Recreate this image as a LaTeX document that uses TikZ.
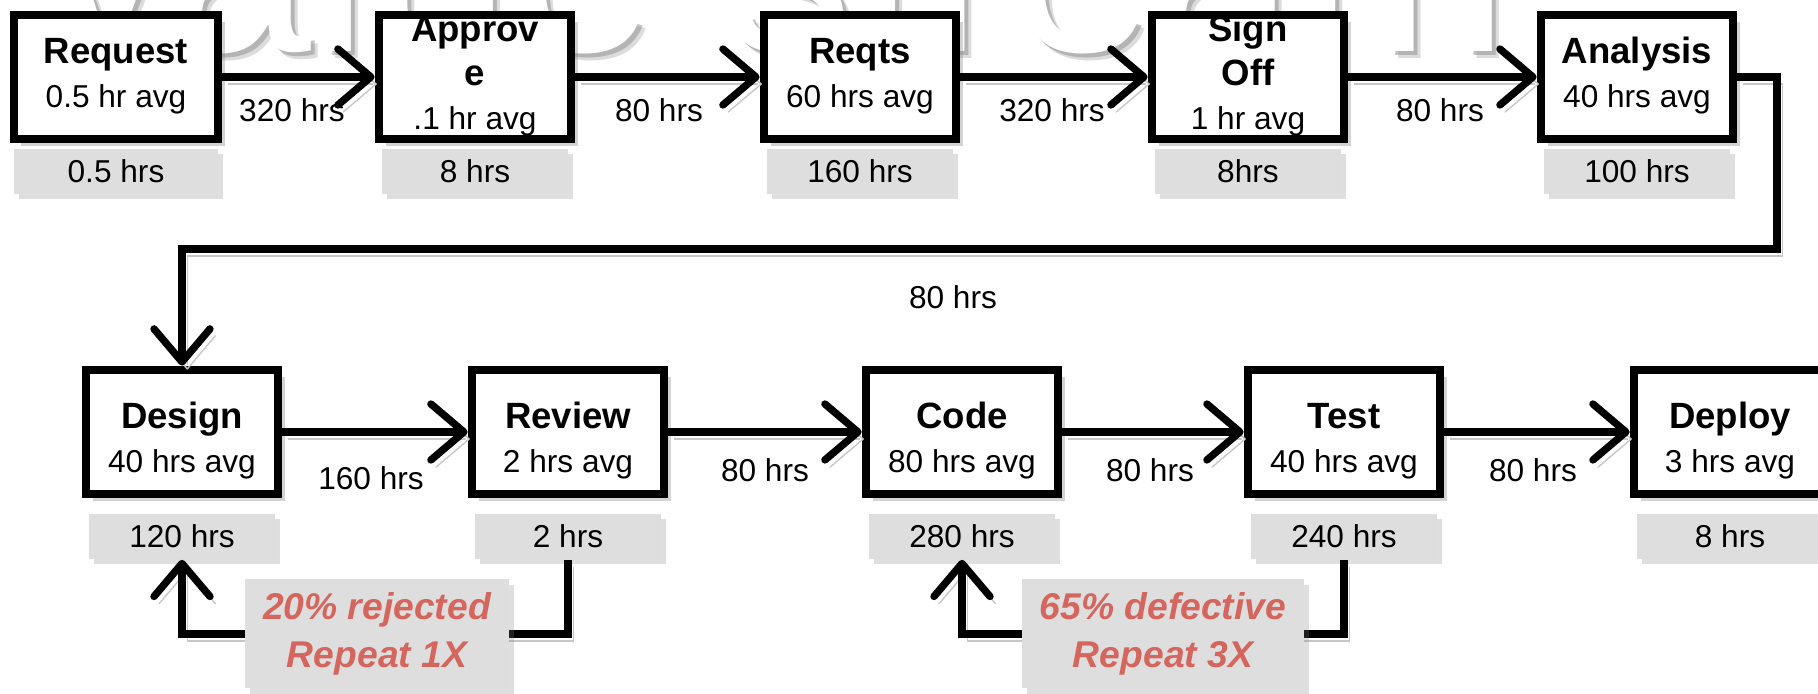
\documentclass[tikz,border=0pt]{standalone}
\usepackage{fontspec}
\setmainfont{Liberation Sans}
\usepackage{tikz}
\usetikzlibrary{arrows.meta,positioning,shadows}
\definecolor{hrsgray}{HTML}{DEDEDE}
\definecolor{notered}{HTML}{D4665E}
\definecolor{wmshade}{HTML}{9A9A9A}
\newcommand{\stepttl}{\fontsize{10.4}{12.5}\selectfont\bfseries}
\newcommand{\stepbody}[3][-0.08cm]{\smash{\raisebox{#1}{\begin{tabular}{@{}c@{}}#2\\#3\end{tabular}}}}

\begin{document}
\begin{tikzpicture}[font=\fontsize{9}{11}\selectfont,
  stepbox/.style={draw=black,line width=2.5pt,fill=white,minimum width=1.92cm,minimum height=1.24cm,inner sep=0pt,
    font=\fontsize{9}{12.5}\selectfont,drop shadow={shadow xshift=2pt,shadow yshift=-2pt,opacity=0.35}},
  hrsbox/.style={fill=hrsgray,minimum width=1.86cm,minimum height=0.45cm,inner sep=0pt,
    drop shadow={shadow xshift=1.5pt,shadow yshift=-1.5pt,opacity=0.25}},
  notebox/.style={fill=hrsgray,text=notered,inner xsep=0.18cm,minimum height=1.09cm,align=center,
    font=\fontsize{10.6}{13.7}\selectfont\bfseries\itshape,drop shadow={shadow xshift=1.5pt,shadow yshift=-1.5pt,opacity=0.25}},
  conn/.style={line width=2.1pt,-{Straight Barb[length=3.3mm,width=5.6mm,round]},
    preaction={draw=black!22,transform canvas={shift={(1.5pt,-2pt)}}}},
  wmark/.style={anchor=base west,inner sep=0pt,font=\fontsize{73}{80}\selectfont}]
  \useasboundingbox (0,0) rectangle (18.18,-6.94);

  \node[wmark,text=wmshade,opacity=0.35] (wmblur) at (0.47,-0.59) {value stream};
  \node[wmark,text=wmshade,opacity=0.6] (wmshadow) at (0.44,-0.56) {value stream};
  \node[wmark,text=white] (wm) at (0.40,-0.52) {value stream};

  \node[stepbox,minimum width=2.04cm] (req) at (1.16,-0.77) {\stepbody{\stepttl Request}{0.5 hr avg}};
  \node[stepbox] (appr) at (4.75,-0.77) {\stepbody{\stepttl Approv\\\stepttl e}{.1 hr avg}};
  \node[stepbox] (reqts) at (8.60,-0.77) {\stepbody{\stepttl Reqts}{60 hrs avg}};
  \node[stepbox] (sign) at (12.48,-0.77) {\stepbody{\stepttl Sign\\\stepttl Off}{1 hr avg}};
  \node[stepbox] (anal) at (16.37,-0.77) {\stepbody{\stepttl Analysis}{40 hrs avg}};

  \node[hrsbox,minimum width=2.04cm,below=0.05cm of req] (reqhrs) {0.5 hrs};
  \node[hrsbox,below=0.05cm of appr] (apprhrs) {8 hrs};
  \node[hrsbox,below=0.05cm of reqts] (reqtshrs) {160 hrs};
  \node[hrsbox,below=0.05cm of sign] (signhrs) {8hrs};
  \node[hrsbox,below=0.05cm of anal] (analhrs) {100 hrs};

  \node[stepbox] (des) at (1.82,-4.32) {\stepbody[-0.18cm]{\stepttl Design}{40 hrs avg}};
  \node[stepbox] (rev) at (5.68,-4.32) {\stepbody[-0.18cm]{\stepttl Review}{2 hrs avg}};
  \node[stepbox] (code) at (9.62,-4.32) {\stepbody[-0.18cm]{\stepttl Code}{80 hrs avg}};
  \node[stepbox] (test) at (13.44,-4.32) {\stepbody[-0.18cm]{\stepttl Test}{40 hrs avg}};
  \node[stepbox] (depl) at (17.30,-4.32) {\stepbody[-0.18cm]{\stepttl Deploy}{3 hrs avg}};

  \node[hrsbox,below=0.15cm of des] (deshrs) {120 hrs};
  \node[hrsbox,below=0.15cm of rev] (revhrs) {2 hrs};
  \node[hrsbox,below=0.15cm of code] (codehrs) {280 hrs};
  \node[hrsbox,below=0.15cm of test] (testhrs) {240 hrs};
  \node[hrsbox,below=0.15cm of depl] (deplhrs) {8 hrs};

  \draw[conn] (req) -- (appr);
  \draw[conn] (appr) -- (reqts);
  \draw[conn] (reqts) -- (sign);
  \draw[conn] (sign) -- (anal);
  \coordinate (loopr) at (17.77,-2.49);
  \draw[conn] (anal.east) -| (loopr) -| (des.north);
  \draw[conn] (des) -- (rev);
  \draw[conn] (rev) -- (code);
  \draw[conn] (code) -- (test);
  \draw[conn] (test) -- (depl);

  \node (w1) at (2.92,-1.10) {320 hrs};
  \node (w2) at (6.59,-1.10) {80 hrs};
  \node (w3) at (10.52,-1.10) {320 hrs};
  \node (w4) at (14.40,-1.10) {80 hrs};
  \node (w5) at (9.53,-2.97) {80 hrs};
  \node (w6) at (3.71,-4.78) {160 hrs};
  \node (w7) at (7.65,-4.70) {80 hrs};
  \node (w8) at (11.50,-4.70) {80 hrs};
  \node (w9) at (15.33,-4.70) {80 hrs};

  \coordinate (rejat) at (3.77,-6.34);
  \coordinate (defat) at (11.63,-6.34);
  \draw[conn] (revhrs.south) |- (rejat) -| (deshrs.south);
  \draw[conn] (testhrs.south) |- (defat) -| (codehrs.south);
  \node[notebox] (rej) at (rejat) {20\% rejected\\Repeat 1X};
  \node[notebox] (def) at (defat) {65\% defective\\Repeat 3X};
\end{tikzpicture}
\end{document}
